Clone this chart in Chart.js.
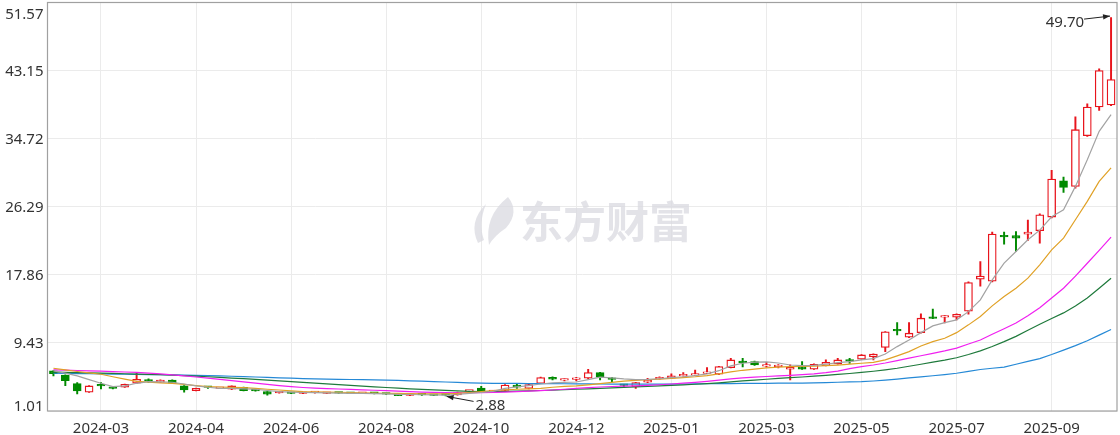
<!DOCTYPE html>
<html>
<head>
<meta charset="utf-8">
<script src="https://cdn.jsdelivr.net/npm/chart.js@4.4.1/dist/chart.umd.min.js"></script>
<style>
    html, body { margin: 0; padding: 0; background: #fff; }
    #wrap { width: 1120px; height: 435px; }
</style>
</head>
<body>
<div id="wrap"><canvas id="kline" width="1120" height="435"></canvas></div>
<script>
// weekly candles
const opens = [5.97, 5.47, 4.39, 3.33, 4.14, 3.85, 3.95, 4.44, 4.75, 4.57,
    4.85, 4.14, 3.53, 3.97, 3.80, 3.70, 3.95, 3.55, 3.40, 3.26,
    3.22, 3.18, 3.28, 3.18, 3.25, 3.22, 3.18, 3.20, 3.13, 2.95,
    2.93, 3.02, 2.96, 3.00, 2.99, 3.47, 3.86, 3.40, 3.55, 4.23,
    3.80, 4.42, 5.19, 4.83, 4.91, 5.06, 5.76, 4.95, 4.27, 4.02,
    4.57, 4.98, 5.06, 5.35, 5.45, 5.66, 5.56, 6.38, 7.02, 7.12,
    6.55, 6.49, 6.18, 6.50, 6.18, 6.62, 6.83, 7.23, 7.42, 7.74,
    8.88, 10.99, 10.14, 10.71, 12.53, 12.62, 12.62, 13.36, 17.33, 17.08,
    22.66, 22.73, 22.91, 23.32, 25.01, 29.51, 28.81, 35.09, 38.64, 38.89];
const closes = [5.63, 4.76, 3.49, 4.11, 4.10, 3.80, 4.32, 4.94, 4.71, 4.85,
    4.44, 3.61, 3.82, 3.93, 3.84, 4.11, 3.53, 3.50, 3.08, 3.30,
    3.18, 3.21, 3.31, 3.21, 3.23, 3.18, 3.21, 3.17, 3.10, 2.91,
    3.05, 2.99, 2.93, 2.97, 3.30, 3.50, 3.40, 3.43, 4.23, 3.95,
    4.29, 5.16, 4.94, 4.85, 4.95, 5.76, 5.19, 4.91, 4.19, 4.52,
    4.85, 5.19, 5.35, 5.38, 5.47, 5.69, 6.50, 7.33, 6.98, 6.71,
    6.60, 6.52, 6.43, 6.18, 6.80, 7.04, 7.33, 7.18, 7.95, 8.05,
    10.80, 10.92, 10.64, 12.50, 12.47, 12.70, 12.99, 16.91, 17.70, 22.91,
    22.57, 22.41, 23.15, 25.30, 29.72, 28.68, 35.83, 38.64, 43.14, 42.03];
const highs = [6.00, 5.50, 4.52, 4.15, 4.52, 3.90, 4.35, 5.68, 5.00, 4.88,
    4.88, 4.16, 3.85, 4.05, 3.90, 4.14, 3.98, 3.58, 3.42, 3.34,
    3.25, 3.26, 3.40, 3.25, 3.30, 3.25, 3.26, 3.24, 3.18, 3.00,
    3.08, 3.05, 3.00, 3.04, 3.34, 3.55, 4.05, 3.48, 4.28, 4.42,
    4.33, 5.20, 5.25, 5.00, 5.19, 6.18, 5.80, 5.19, 4.32, 4.56,
    5.06, 5.23, 5.60, 5.76, 6.09, 6.38, 6.54, 7.54, 7.54, 7.18,
    7.02, 6.77, 6.71, 7.12, 6.85, 7.33, 7.54, 7.52, 8.00, 8.10,
    10.85, 11.95, 11.95, 13.03, 13.61, 12.82, 13.05, 17.00, 19.51, 23.15,
    23.15, 23.23, 24.64, 25.40, 30.79, 29.97, 37.41, 39.02, 43.35, 49.70];
const lows = [5.35, 4.14, 3.12, 3.30, 3.74, 3.75, 3.92, 4.40, 4.55, 4.54,
    4.40, 3.33, 3.50, 3.80, 3.76, 3.66, 3.50, 3.47, 2.98, 3.22,
    3.14, 3.14, 3.22, 3.15, 3.18, 3.14, 3.15, 3.12, 3.05, 2.95,
    2.90, 2.94, 2.90, 2.88, 2.96, 3.42, 3.28, 3.36, 3.50, 3.80,
    3.75, 4.40, 4.85, 4.72, 4.73, 5.00, 4.85, 4.64, 3.98, 3.82,
    4.52, 4.95, 5.02, 5.32, 5.42, 5.62, 5.52, 6.35, 6.46, 6.66,
    6.45, 6.34, 4.85, 6.15, 6.15, 6.60, 6.80, 6.90, 7.38, 7.33,
    8.36, 10.43, 10.10, 10.65, 12.45, 11.91, 12.29, 12.99, 16.46, 17.00,
    21.67, 20.75, 22.11, 21.79, 24.90, 28.06, 28.60, 35.00, 38.22, 38.80];

// moving averages as drawn
const ma5 = [5.97, 5.70, 5.35, 4.90, 4.44, 4.02, 4.11, 4.44, 4.64, 4.62,
    4.57, 4.35, 4.11, 3.95, 3.82, 3.80, 3.75, 3.70, 3.55, 3.40,
    3.35, 3.30, 3.28, 3.25, 3.22, 3.20, 3.18, 3.15, 3.12, 3.08,
    3.05, 3.02, 3.00, 2.98, 3.05, 3.18, 3.30, 3.45, 3.80, 4.00,
    4.15, 4.35, 4.50, 4.55, 4.60, 4.90, 5.20, 5.10, 4.98, 4.90,
    4.92, 5.00, 5.15, 5.25, 5.40, 5.60, 6.00, 6.60, 6.92, 7.05,
    7.10, 6.95, 6.70, 6.62, 6.65, 6.80, 7.00, 7.12, 7.33, 7.49,
    8.07, 8.98, 9.81, 10.71, 11.54, 11.95, 12.29, 13.31, 14.77, 17.24,
    19.31, 20.75, 22.20, 23.40, 25.05, 25.92, 28.81, 32.11, 35.62, 37.69];
const ma10 = [6.30, 6.10, 5.90, 5.72, 5.56, 5.25, 4.95, 4.68, 4.58, 4.50,
    4.44, 4.30, 4.16, 4.02, 3.98, 3.94, 3.90, 3.80, 3.70, 3.61,
    3.50, 3.42, 3.38, 3.35, 3.33, 3.30, 3.27, 3.24, 3.21, 3.18,
    3.15, 3.13, 3.12, 3.12, 3.18, 3.30, 3.42, 3.52, 3.62, 3.70,
    3.76, 3.82, 3.95, 4.05, 4.11, 4.25, 4.40, 4.55, 4.70, 4.80,
    4.88, 4.95, 5.05, 5.15, 5.25, 5.40, 5.60, 5.85, 6.05, 6.20,
    6.35, 6.45, 6.50, 6.52, 6.55, 6.62, 6.70, 6.80, 6.92, 7.04,
    7.33, 7.83, 8.36, 9.06, 9.60, 10.02, 10.71, 11.67, 12.70, 14.02,
    15.17, 16.21, 17.45, 19.10, 20.96, 22.41, 24.68, 26.95, 29.43, 31.09];
const ma20 = [6.09, 6.06, 6.02, 5.98, 5.94, 5.89, 5.84, 5.78, 5.70, 5.60,
    5.48, 5.36, 5.22, 5.08, 4.93, 4.78, 4.62, 4.46, 4.30, 4.15,
    4.02, 3.92, 3.84, 3.78, 3.73, 3.68, 3.63, 3.58, 3.52, 3.46,
    3.40, 3.35, 3.31, 3.28, 3.27, 3.27, 3.28, 3.31, 3.35, 3.40,
    3.46, 3.53, 3.61, 3.70, 3.80, 3.90, 3.98, 4.04, 4.08, 4.12,
    4.18, 4.26, 4.35, 4.45, 4.56, 4.68, 4.82, 4.98, 5.10, 5.20,
    5.28, 5.35, 5.42, 5.50, 5.60, 5.75, 5.95, 6.25, 6.50, 6.70,
    6.95, 7.25, 7.55, 7.85, 8.15, 8.45, 8.80, 9.30, 9.80, 10.50,
    11.20, 11.90, 12.80, 13.80, 15.00, 16.20, 17.70, 19.30, 20.90, 22.53];
const ma30 = [5.81, 5.79, 5.76, 5.73, 5.70, 5.66, 5.62, 5.58, 5.54, 5.50,
    5.46, 5.40, 5.33, 5.25, 5.17, 5.09, 5.01, 4.92, 4.83, 4.74,
    4.65, 4.56, 4.47, 4.37, 4.27, 4.17, 4.08, 4.00, 3.92, 3.84,
    3.76, 3.69, 3.62, 3.56, 3.50, 3.45, 3.42, 3.42, 3.44, 3.47,
    3.51, 3.55, 3.60, 3.65, 3.70, 3.76, 3.82, 3.88, 3.94, 4.00,
    4.06, 4.12, 4.18, 4.25, 4.32, 4.40, 4.50, 4.62, 4.74, 4.84,
    4.94, 5.04, 5.13, 5.22, 5.32, 5.43, 5.55, 5.65, 5.78, 5.93,
    6.10, 6.30, 6.55, 6.80, 7.05, 7.30, 7.60, 8.00, 8.45, 9.00,
    9.60, 10.25, 11.00, 11.75, 12.45, 13.15, 14.00, 15.00, 16.20, 17.45];
const ma60 = [5.68, 5.66, 5.64, 5.62, 5.60, 5.58, 5.56, 5.54, 5.52, 5.50,
    5.47, 5.44, 5.41, 5.38, 5.35, 5.31, 5.27, 5.22, 5.17, 5.12,
    5.07, 5.02, 4.98, 4.95, 4.93, 4.91, 4.89, 4.87, 4.84, 4.80,
    4.75, 4.70, 4.65, 4.60, 4.55, 4.50, 4.46, 4.44, 4.43, 4.42,
    4.41, 4.40, 4.39, 4.38, 4.37, 4.36, 4.35, 4.34, 4.33, 4.33,
    4.33, 4.33, 4.34, 4.35, 4.36, 4.38, 4.40, 4.41, 4.42, 4.43,
    4.44, 4.45, 4.46, 4.47, 4.50, 4.53, 4.57, 4.61, 4.64, 4.72,
    4.82, 4.95, 5.10, 5.23, 5.37, 5.52, 5.68, 5.92, 6.15, 6.30,
    6.45, 6.80, 7.15, 7.50, 8.00, 8.55, 9.10, 9.70, 10.40, 11.10];

const yTicks = [1.01, 9.43, 17.86, 26.29, 34.72, 43.15, 51.57];
const xTickIndex = [4, 12, 20, 28, 36, 44, 52, 60, 68, 76, 84];
const xTickText = ['2024-03', '2024-04', '2024-06', '2024-08', '2024-10', '2024-12',
    '2025-01', '2025-03', '2025-05', '2025-07', '2025-09'];
const highMark = [89, 49.70];
const lowMark = [33, 2.88];

const UP = '#e8141c';
const DOWN = '#008a00';
const GRID = '#ebebeb';
const TEXT = '#333333';
const FONT = '15px "Noto Sans", sans-serif';

const categories = opens.map((o, i) => i);
const isUp = opens.map((o, i) => closes[i] >= o);

function maLine(label, data, color) {
    return {
        type: 'line', label: label, data: data,
        borderColor: color, borderWidth: 1.2,
        pointRadius: 0, tension: 0, fill: false, order: 1
    };
}

function arrow(ctx, x1, y1, x2, y2) {
    const a = Math.atan2(y2 - y1, x2 - x1);
    ctx.beginPath();
    ctx.moveTo(x1, y1);
    ctx.lineTo(x2, y2);
    ctx.stroke();
    ctx.beginPath();
    ctx.moveTo(x2, y2);
    ctx.lineTo(x2 - 7 * Math.cos(a) + 2.6 * Math.sin(a), y2 - 7 * Math.sin(a) - 2.6 * Math.cos(a));
    ctx.lineTo(x2 - 7 * Math.cos(a) - 2.6 * Math.sin(a), y2 - 7 * Math.sin(a) + 2.6 * Math.cos(a));
    ctx.closePath();
    ctx.fill();
}

// watermark, frame, axis labels and the high/low marks
const decorations = {
    id: 'decorations',
    beforeDatasetsDraw(chart) {
        const ctx = chart.ctx;
        ctx.save();
        ctx.fillStyle = 'rgba(218, 218, 224, 0.75)';
        // logo swoosh
        ctx.beginPath();
        ctx.moveTo(478, 243);
        ctx.quadraticCurveTo(468, 222, 486, 204);
        ctx.quadraticCurveTo(478, 224, 484, 240);
        ctx.closePath();
        ctx.fill();
        ctx.beginPath();
        ctx.moveTo(489, 245);
        ctx.quadraticCurveTo(484, 216, 508, 197);
        ctx.quadraticCurveTo(520, 212, 506, 228);
        ctx.quadraticCurveTo(494, 236, 489, 245);
        ctx.closePath();
        ctx.fill();
        ctx.font = 'bold 43px "Noto Sans CJK SC", sans-serif';
        ctx.textAlign = 'left';
        ctx.textBaseline = 'alphabetic';
        ctx.fillText('东方财富', 520, 238);
        ctx.restore();
    },
    afterDraw(chart) {
        const ctx = chart.ctx;
        const area = chart.chartArea;
        const xs = chart.scales.x;
        const ys = chart.scales.y;
        ctx.save();
        ctx.strokeStyle = '#a0a0a0';
        ctx.lineWidth = 1.2;
        ctx.strokeRect(area.left, area.top, area.right - area.left, area.bottom - area.top);

        ctx.fillStyle = TEXT;
        ctx.font = FONT;
        ctx.textAlign = 'right';
        ctx.textBaseline = 'alphabetic';
        yTicks.forEach((v, i) => {
            let y = ys.getPixelForValue(v) + 5.5;
            if (i === 0) y = area.bottom;
            if (i === yTicks.length - 1) y = area.top + 16.5;
            ctx.fillText(v.toFixed(2), area.left - 4, y);
        });

        ctx.textAlign = 'center';
        xTickIndex.forEach((idx, i) => {
            ctx.fillText(xTickText[i], xs.getPixelForValue(idx), 433);
        });

        ctx.strokeStyle = '#222';
        ctx.fillStyle = '#222';
        ctx.lineWidth = 1;
        const hx = xs.getPixelForValue(highMark[0]);
        const hy = ys.getPixelForValue(highMark[1]);
        arrow(ctx, hx - 27, hy + 1.5, hx - 1, hy - 1.5);
        ctx.fillStyle = TEXT;
        ctx.textAlign = 'right';
        ctx.fillText(highMark[1].toFixed(2), hx - 27, hy + 9.5);

        const lx = xs.getPixelForValue(lowMark[0]);
        const ly = ys.getPixelForValue(lowMark[1]);
        ctx.fillStyle = '#222';
        arrow(ctx, lx + 28, ly + 5.5, lx + 1, ly + 0.5);
        ctx.fillStyle = TEXT;
        ctx.textAlign = 'left';
        ctx.fillText(lowMark[1].toFixed(2), lx + 30, ly + 14);
        ctx.restore();
    }
};

const ctx = document.getElementById('kline').getContext('2d');
new Chart(ctx, {
    type: 'bar',
    data: {
        labels: categories,
        datasets: [
            maLine('MA5', ma5, '#a3a3a3'),
            maLine('MA10', ma10, '#e0a126'),
            maLine('MA20', ma20, '#f020f0'),
            maLine('MA30', ma30, '#1f7a3c'),
            maLine('MA60', ma60, '#2589d6'),
            {
                label: 'body',
                data: opens.map((o, i) => [o, closes[i]]),
                backgroundColor: isUp.map(u => u ? '#ffffff' : DOWN),
                borderColor: isUp.map(u => u ? UP : DOWN),
                borderWidth: 1.3,
                borderSkipped: false,
                barThickness: 8,
                minBarLength: 1.6,
                grouped: false,
                order: 2
            },
            {
                label: 'wick',
                data: lows.map((l, i) => [l, highs[i]]),
                backgroundColor: isUp.map(u => u ? UP : DOWN),
                borderWidth: 0,
                barThickness: 1.3,
                grouped: false,
                order: 3
            }
        ]
    },
    options: {
        responsive: false,
        animation: false,
        layout: { padding: { left: 47.5, right: 3, top: 2.5, bottom: 24 } },
        plugins: {
            legend: { display: false },
            tooltip: { enabled: false }
        },
        scales: {
            x: {
                offset: true,
                grid: {
                    offset: false,
                    drawTicks: false,
                    color: c => xTickIndex.includes(c.index) ? GRID : 'rgba(0,0,0,0)'
                },
                border: { display: false },
                ticks: { display: false, autoSkip: false }
            },
            y: {
                min: 1.01,
                max: 51.57,
                afterBuildTicks: axis => { axis.ticks = yTicks.map(v => ({ value: v })); },
                grid: { color: GRID, drawTicks: false },
                border: { display: false },
                ticks: { display: false }
            }
        }
    },
    plugins: [decorations]
});
</script>
</body>
</html>
